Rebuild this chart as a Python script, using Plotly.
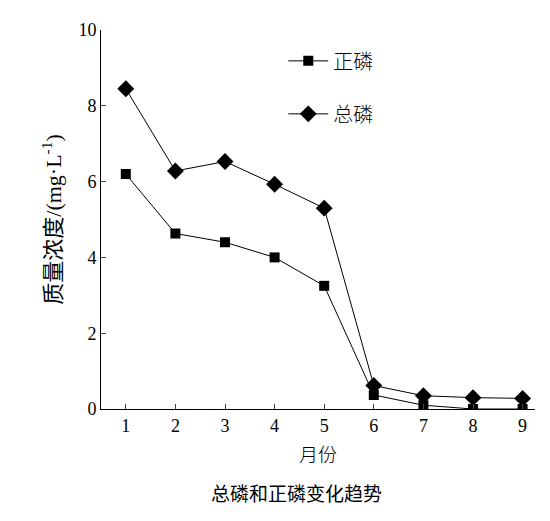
import plotly.graph_objects as go

months = [1, 2, 3, 4, 5, 6, 7, 8, 9]
ortho_p = [6.2, 4.63, 4.4, 4.0, 3.25, 0.37, 0.1, 0.0, 0.0]
total_p = [8.45, 6.28, 6.53, 5.93, 5.3, 0.62, 0.35, 0.3, 0.28]

font = "Liberation Serif, Noto Sans CJK SC"

fig = go.Figure()
fig.add_trace(go.Scatter(x=months, y=ortho_p, name="正磷", mode="lines+markers",
                         legendgroup="a",
                         line=dict(color="black", width=1),
                         marker=dict(symbol="square", size=10, color="black")))
fig.add_trace(go.Scatter(x=months, y=total_p, name="总磷", mode="lines+markers",
                         legendgroup="b",
                         line=dict(color="black", width=1),
                         marker=dict(symbol="diamond", size=13, color="black")))

fig.update_layout(
    width=550, height=521,
    margin=dict(l=93, r=23, t=18, b=120),
    plot_bgcolor="white", paper_bgcolor="white",
    font=dict(family=font, size=18, color="black"),
    showlegend=True,
    legend=dict(x=0.42, y=0.97, xanchor="left", yanchor="top",
                bgcolor="rgba(0,0,0,0)", tracegroupgap=24,
                font=dict(size=20, family="Noto Sans CJK SC Light, Noto Sans CJK SC"), itemwidth=40),
    xaxis=dict(range=[0.5, 9.25], tickvals=months, ticks="inside", ticklen=5,
               showline=True, linecolor="black", showgrid=False, zeroline=False,
               title=dict(text="月份", standoff=14,
                          font=dict(family="Noto Sans CJK SC Light, Noto Sans CJK SC", size=19))),
    yaxis=dict(range=[0, 10], tickvals=[0, 2, 4, 6, 8, 10], ticks="inside", ticklen=5,
               showline=True, linecolor="black", showgrid=False, zeroline=False,
               title=dict(text="质量浓度/(mg·L<sup>-1</sup>)", standoff=10)),
    annotations=[dict(text="总磷和正磷变化趋势", xref="paper", yref="paper",
                      x=0.45, y=-0.22, showarrow=False, yanchor="middle",
                      font=dict(size=19, family="Noto Sans CJK SC"))],
)

fig.write_html("out.html")
